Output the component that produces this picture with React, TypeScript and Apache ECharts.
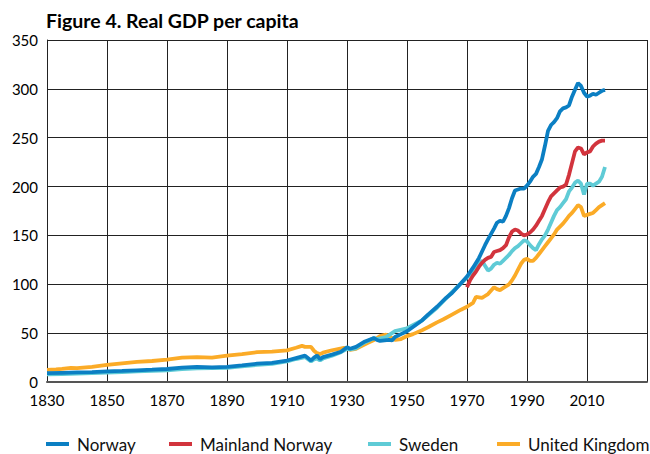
import React, { useEffect, useRef } from "react";
import * as echarts from "echarts";

const titleText = "Figure 4. Real GDP per capita";
const seriesNames = ["Norway", "Mainland Norway", "Sweden", "United Kingdom"];

const norway: [number, number][] = [
  [1830, 9], [1835, 9.4], [1840, 9.8], [1845, 10.2], [1850, 10.8], [1855, 11.3], [1860, 12], [1865, 12.6],
  [1870, 13.3], [1875, 14.8], [1880, 15.5], [1885, 15], [1890, 15.5], [1895, 17], [1900, 18.7], [1905, 19.5],
  [1910, 22], [1913, 24.5], [1916, 27], [1918, 22], [1919, 25], [1920, 27], [1921, 23.5], [1922, 25.5],
  [1925, 28], [1928, 31], [1930, 35.5], [1931, 34], [1933, 36], [1936, 41.5], [1939, 45], [1940, 43],
  [1941, 42], [1944, 43], [1945, 42.5], [1946, 46], [1948, 49], [1950, 52], [1955, 63], [1957, 69],
  [1960, 77], [1963, 86], [1965, 91], [1968, 101], [1970, 108], [1972, 117], [1974, 127], [1976, 140],
  [1977, 146], [1979, 157], [1980, 163], [1981, 165], [1982, 164], [1983, 170], [1984, 178], [1985, 188],
  [1986, 196], [1987, 197], [1988, 198], [1989, 198], [1990, 201], [1991, 205], [1992, 210], [1993, 213],
  [1994, 220], [1995, 228], [1996, 242], [1997, 257], [1998, 263], [1999, 266], [2000, 270], [2001, 277],
  [2002, 280], [2003, 281], [2004, 283], [2005, 292], [2006, 299], [2007, 306], [2008, 303], [2009, 296],
  [2010, 292], [2011, 293], [2012, 295], [2013, 294], [2014, 296], [2015, 298], [2016, 299],
];

const mainlandNorway: [number, number][] = [
  [1970, 97], [1971, 104], [1972, 109], [1973, 113], [1974, 118], [1975, 122], [1976, 125], [1977, 127],
  [1978, 128], [1979, 133], [1980, 134], [1981, 135], [1982, 137], [1983, 140], [1984, 148], [1985, 154],
  [1986, 156], [1987, 155], [1988, 152], [1989, 150], [1990, 151], [1991, 153], [1992, 156], [1993, 160],
  [1994, 165], [1995, 170], [1996, 177], [1997, 184], [1998, 190], [1999, 193], [2000, 196], [2001, 199],
  [2002, 200], [2003, 202], [2004, 212], [2005, 224], [2006, 236], [2007, 240], [2008, 239], [2009, 233],
  [2010, 235], [2011, 236], [2012, 241], [2013, 244], [2014, 246], [2015, 247], [2016, 247],
];

const sweden: [number, number][] = [
  [1830, 7.8], [1835, 8.2], [1840, 8.6], [1845, 9], [1850, 9.5], [1855, 10.2], [1860, 10.8], [1865, 11.3],
  [1870, 12], [1875, 13.2], [1880, 14], [1885, 14.2], [1890, 14.5], [1895, 16], [1900, 17.5], [1905, 18.5],
  [1910, 21], [1913, 23.5], [1916, 25.5], [1918, 21], [1919, 23], [1920, 24], [1921, 22], [1922, 24],
  [1925, 27], [1928, 30.5], [1930, 34], [1931, 33.5], [1933, 34.5], [1935, 39], [1939, 45], [1940, 44],
  [1943, 46], [1945, 50], [1946, 52], [1950, 55], [1955, 63], [1960, 76], [1965, 92], [1970, 107],
  [1972, 113], [1974, 122], [1975, 124], [1976, 119], [1977, 114], [1978, 116], [1979, 120], [1980, 122],
  [1981, 121], [1982, 124], [1983, 127], [1984, 130], [1985, 134], [1986, 137], [1987, 139], [1988, 142],
  [1989, 145], [1990, 144], [1991, 140], [1992, 137], [1993, 135], [1994, 141], [1995, 146], [1996, 150],
  [1997, 156], [1998, 163], [1999, 170], [2000, 176], [2001, 179], [2002, 183], [2003, 187], [2004, 195],
  [2005, 199], [2006, 204], [2007, 206], [2008, 203], [2009, 192], [2010, 203], [2011, 203], [2012, 201],
  [2013, 203], [2014, 205], [2015, 210], [2016, 220],
];

const unitedKingdom: [number, number][] = [
  [1830, 12.5], [1833, 13], [1835, 13.5], [1838, 14.5], [1840, 14.2], [1845, 15.5], [1850, 17.5], [1855, 19],
  [1860, 20.5], [1865, 21.5], [1870, 23], [1875, 25], [1880, 25.5], [1885, 25], [1890, 27], [1895, 28.5],
  [1900, 30.5], [1905, 31], [1910, 32.3], [1913, 35], [1915, 37], [1916, 36], [1918, 36], [1919, 32],
  [1920, 29.5], [1921, 28.5], [1922, 30], [1925, 32.5], [1929, 35], [1931, 33], [1933, 34], [1935, 37],
  [1937, 40], [1939, 43], [1941, 47], [1943, 48.5], [1944, 47], [1946, 43], [1948, 44], [1950, 47],
  [1952, 49], [1955, 53], [1957, 56], [1960, 61], [1962, 64], [1965, 69], [1968, 74], [1970, 77],
  [1972, 81], [1973, 87], [1975, 86], [1976, 88], [1977, 90], [1979, 97], [1980, 95], [1981, 94],
  [1982, 96], [1984, 100], [1985, 104], [1986, 109], [1987, 115], [1988, 121], [1989, 125], [1990, 126],
  [1991, 124], [1992, 124], [1993, 127], [1994, 131], [1995, 135], [1996, 139], [1997, 143], [1998, 147],
  [1999, 151], [2000, 156], [2001, 159], [2002, 162], [2003, 166], [2004, 170], [2005, 173], [2006, 177],
  [2007, 181], [2008, 179], [2009, 170], [2010, 171], [2011, 172], [2012, 173], [2013, 176], [2014, 179],
  [2015, 181], [2016, 183],
];

const seriesData = [norway, mainlandNorway, sweden, unitedKingdom];
const colors = ["#0b7fc3", "#d2343d", "#5fcbd6", "#fbab27"];
const legendLefts = [46, 169, 368, 497];
const drawOrder = [3, 2, 1, 0];
const FONT = "Lato, 'Open Sans', sans-serif";

export default function App() {
  const ref = useRef<HTMLDivElement>(null);
  useEffect(() => {
    if (!ref.current) return;
    const chart = echarts.init(ref.current, undefined, { renderer: "svg" });
    chart.setOption({
      animation: false,
      backgroundColor: "#ffffff",
      title: {
        text: titleText,
        left: 46,
        top: 10,
        padding: 0,
        textStyle: { fontFamily: FONT, fontSize: 19.5, fontWeight: "bold", color: "#000" },
      },
      legend: seriesNames.map((n, i) => ({
        data: [n],
        left: legendLefts[i],
        top: 435,
        padding: 0,
        icon: "rect",
        itemWidth: 23,
        itemHeight: 4,
        selectedMode: false,
        textStyle: {
          fontFamily: FONT,
          fontSize: 17,
          lineHeight: 18,
          color: "#111",
          padding: [0, 0, 0, 3],
        },
      })),
      grid: { left: 47, top: 40, width: 606, height: 342, containLabel: false },
      xAxis: {
        type: "value",
        min: 1830,
        max: 2030,
        interval: 20,
        axisLine: { show: true, lineStyle: { color: "#555", width: 2 } },
        axisTick: { show: false },
        axisLabel: {
          margin: 10,
          fontFamily: FONT,
          fontSize: 15,
          lineHeight: 15,
          color: "#000",
          formatter: (v: number) => (v > 2015 ? "" : String(v)),
        },
        splitLine: { show: true, lineStyle: { color: "#222", width: 1 } },
      },
      yAxis: {
        type: "value",
        min: 0,
        max: 350,
        interval: 50,
        axisLine: { show: true, lineStyle: { color: "#222", width: 1 } },
        axisTick: { show: false },
        axisLabel: { margin: 9, fontFamily: FONT, fontSize: 15, lineHeight: 14, color: "#000" },
        splitLine: { show: true, lineStyle: { color: "#222", width: 1 } },
      },
      series: drawOrder.map((i) => ({
        name: seriesNames[i],
        type: "line",
        data: seriesData[i],
        showSymbol: false,
        symbol: "none",
        color: colors[i],
        lineStyle: { color: colors[i], width: 3.8 },
        z: 10 - i,
      })),
    });
    return () => chart.dispose();
  }, []);
  return (
    <div
      ref={ref}
      style={{ position: "fixed", left: 0, top: 0, width: 650, height: 454, background: "#fff" }}
    />
  );
}
